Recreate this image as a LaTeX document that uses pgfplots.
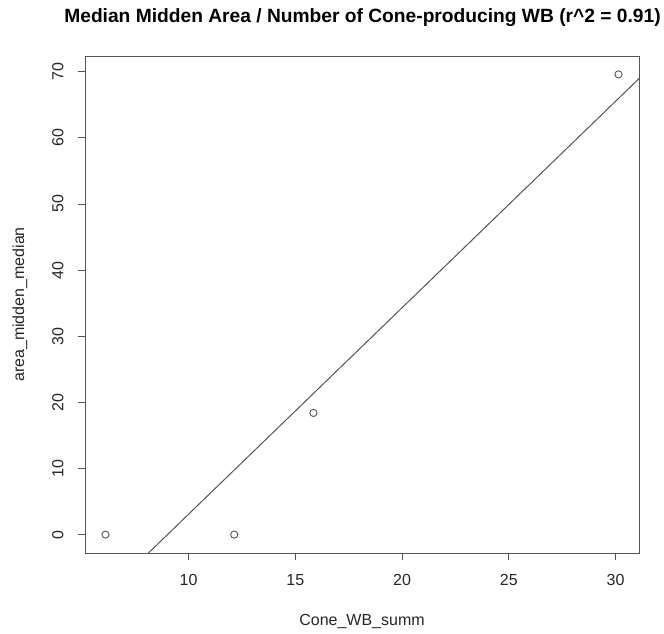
\documentclass[border=0pt]{standalone}
\usepackage{pgfplots}
\pgfplotsset{compat=1.18}
\usepackage{fontspec}
\setmainfont{Liberation Sans}
\definecolor{rgray}{HTML}{555555}
\begin{document}
\begin{tikzpicture}[x=1bp,y=1bp]
\useasboundingbox (0,0) rectangle (664,634);
\begin{axis}[
  at={(85bp,81bp)}, anchor=south west,
  scale only axis, width=554bp, height=497bp,
  xmin=5.15, xmax=31.1, ymin=-2.78, ymax=72.38,
  xtick={10,15,20,25,30}, ytick={0,10,20,30,40,50,60,70},
  xtick pos=lower, ytick pos=left,
  tick align=outside, major tick length=7bp,
  axis line style={rgray, line width=0.9pt},
  tick style={rgray, line width=0.9pt},
  /pgf/number format/assume math mode=true,
  ticklabel style={font=\fontsize{16bp}{18bp}\selectfont, text=black!85},
  yticklabel style={rotate=90, anchor=south, xshift=0bp, yshift=11bp},
  xticklabel style={anchor=north, yshift=-11bp},
  xlabel={Cone\_WB\_summ},
  ylabel={area\_midden\_median},
  label style={font=\fontsize{16bp}{18bp}\selectfont, text=black!85},
  xlabel style={at={(axis description cs:0.5,0)}, anchor=center, yshift=-69bp},
  ylabel style={at={(axis description cs:0,0.5)}, anchor=center, yshift=65bp},
  clip=true,
]
\addplot[only marks, mark=o, mark size=3.6bp, mark options={line width=0.9pt, rgray}] coordinates {
  (6.11,0) (12.14,0) (15.85,18.4) (30.14,69.6)
};
\addplot[rgray, line width=1pt] coordinates {(5.15,-12.06) (31.1,68.96)};
\end{axis}
\node[font=\bfseries\fontsize{19.2bp}{22bp}\selectfont, anchor=center] at (362.5,616) {Median Midden Area / Number of Cone-producing WB (r\^{}2 = 0.91)};
\end{tikzpicture}
\end{document}
